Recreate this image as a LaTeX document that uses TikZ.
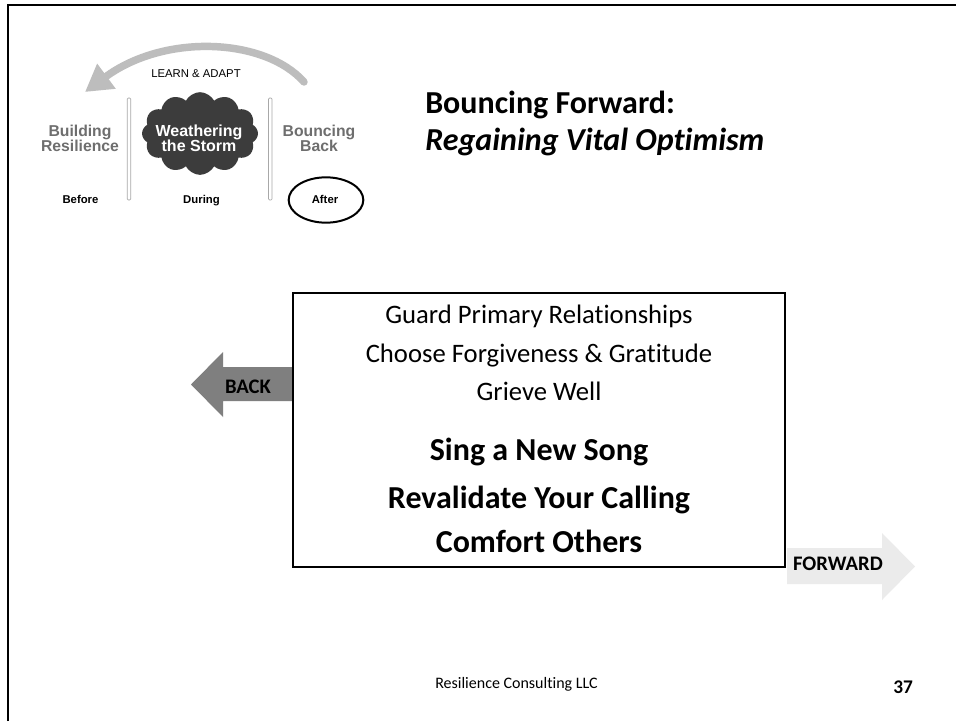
\documentclass[tikz,border=0pt]{standalone}
\usepackage{fontspec}
\setmainfont{Carlito}[Ligatures={NoCommon}]
\newfontfamily\arialf{Liberation Sans}
\usetikzlibrary{shapes.symbols,shapes.geometric,arrows.meta}
\definecolor{backgray}{HTML}{7F7F7F}
\definecolor{fwdgray}{HTML}{EBEBEB}
\definecolor{loopgray}{HTML}{BDBDBD}
\definecolor{logotext}{HTML}{6E6E6E}
\definecolor{cloudgray}{HTML}{3C3C3C}
\definecolor{bargray}{HTML}{A8A8A8}
\tikzset{
  reg/.style={inner sep=0pt, anchor=base, font=\fontsize{20}{24}\selectfont},
  big/.style={inner sep=0pt, anchor=base, font=\fontsize{24}{28}\selectfont\bfseries},
  lg/.style={inner sep=0pt, anchor=base, text=logotext, font=\arialf\bfseries\fontsize{11.8}{12}\selectfont},
  lgsmall/.style={inner sep=0pt, anchor=base, font=\arialf\bfseries\fontsize{8.5}{9}\selectfont},
  bar/.style={draw=bargray, fill=white, line width=0.5pt, rounded corners=0.8pt, minimum width=2.6pt, minimum height=76.5pt, inner sep=0pt},
  arrowlbl/.style={inner sep=0pt, anchor=base, font=\fontsize{15.5}{18}\selectfont\bfseries}
}
\begin{document}
\begin{tikzpicture}[x=0.75pt,y=-0.75pt]
\useasboundingbox (0,0) rectangle (956,721);
\fill[white] (0,0) rectangle (956,721);
% slide frame
\coordinate (fbl) at (8,721);
\coordinate (ftl) at (8,5);
\coordinate (ftr) at (956,5);
\draw[line width=1.5pt] (fbl) -- (ftl) -- (ftr);

% ---------- logo ----------
\coordinate (loopstart) at (304,82);
\coordinate (looptip) at (85,92);
\draw[loopgray, line width=5.6pt, line cap=round, -{Triangle[length=20pt,width=22pt]}]
  (loopstart) .. controls (265,38) and (165,33) .. (looptip);
\node[inner sep=0pt, anchor=base, font=\arialf\fontsize{8.5}{9}\selectfont] (learn) at (196,77.7) {LEARN \& ADAPT};

\node[bar] (bar1) at (129,149) {};
\node[bar] (bar2) at (270.3,149) {};

\node[cloud, cloud puffs=12, cloud puff arc=125, aspect=1.4, fill=cloudgray, inner sep=0pt,
      minimum width=87pt, minimum height=62pt] (storm) at (200,133.5) {};
\node[inner sep=0pt, anchor=base, text=white, font=\arialf\bfseries\fontsize{12}{12}\selectfont] (w1) at (199,136.7) {Weathering};
\node[inner sep=0pt, anchor=base, text=white, font=\arialf\bfseries\fontsize{12}{12}\selectfont] (w2) at (199,151) {the Storm};

\node[lg] (b1) at (80,136.7) {Building};
\node[lg] (b2) at (80,151.7) {Resilience};
\node[lg] (c1) at (319,136.7) {Bouncing};
\node[lg] (c2) at (319,151.7) {Back};

\node[lgsmall] (before) at (80.5,203.3) {Before};
\node[lgsmall] (during) at (201.5,203.3) {During};
\node[lgsmall] (after) at (325,203.3) {After};
\node[draw, ellipse, line width=1.5pt, minimum width=56pt, minimum height=34pt, inner sep=0pt] (afterring) at (326,200) {};

% ---------- title ----------
\node[inner sep=0pt, anchor=base west, font=\fontsize{24}{28}\selectfont\bfseries] (t1) at (425,113) {Bouncing Forward:};
\node[inner sep=0pt, anchor=base west, font=\fontsize{24}{28}\selectfont\bfseries\itshape] (t2) at (425,150) {Regaining Vital Optimism};

% ---------- arrows ----------
\fill[backgray] (293,367) -- (223,367) -- (223,352) -- (191,384.5) -- (223,417) -- (223,401) -- (293,401) -- cycle;
\node[arrowlbl] (backlbl) at (248,393) {BACK};
\fill[fwdgray] (787,548) -- (882,548) -- (882,533) -- (915,566.5) -- (882,600) -- (882,584) -- (787,584) -- cycle;
\node[arrowlbl] (fwdlbl) at (838,570.7) {FORWARD};

% ---------- main box ----------
\node[draw, line width=1.5pt, fill=white, minimum width=369pt, minimum height=205.5pt, inner sep=0pt] (box) at (539,430) {};
\node[reg] (l1) at (539,323) {Guard Primary Relationships};
\node[reg] (l2) at (539,362) {Choose Forgiveness \& Gratitude};
\node[reg] (l3) at (539,400) {Grieve Well};
\node[big] (l4) at (539,460) {Sing a New Song};
\node[big] (l5) at (539,508) {Revalidate Your Calling};
\node[big] (l6) at (539,552) {Comfort Others};

% ---------- footer ----------
\node[inner sep=0pt, anchor=base west, font=\fontsize{12}{14}\selectfont] (foot) at (435,688) {Resilience Consulting LLC};
\node[inner sep=0pt, anchor=base west, font=\fontsize{14.5}{16}\selectfont\bfseries] (pnum) at (893,693) {37};
\end{tikzpicture}
\end{document}
